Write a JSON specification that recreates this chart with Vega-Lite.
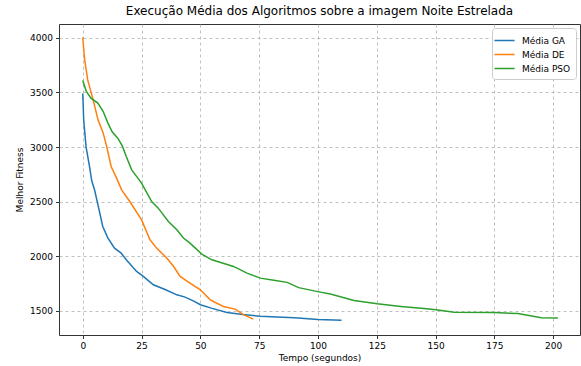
{
  "$schema": "https://vega.github.io/schema/vega-lite/v6.json",
  "autosize": {"type": "none"},
  "padding": {"left": 59, "top": 24, "right": 1, "bottom": 31},
  "width": 521,
  "height": 311,
  "background": "white",
  "config": {
    "font": "DejaVu Sans",
    "view": {"stroke": "#333333", "strokeWidth": 1}
  },
  "title": {
    "text": "Execução Média dos Algoritmos sobre a imagem Noite Estrelada",
    "fontSize": 12,
    "fontWeight": "normal",
    "color": "#000000",
    "anchor": "middle",
    "offset": 6,
    "font": "DejaVu Sans"
  },
  "data": {
    "values": [
      {"alg": "Média GA", "t": 0, "v": 3490},
      {"alg": "Média GA", "t": 0.4, "v": 3248},
      {"alg": "Média GA", "t": 1.4, "v": 3002},
      {"alg": "Média GA", "t": 2.9, "v": 2819},
      {"alg": "Média GA", "t": 3.8, "v": 2693},
      {"alg": "Média GA", "t": 5.0, "v": 2608},
      {"alg": "Média GA", "t": 6.3, "v": 2486},
      {"alg": "Média GA", "t": 8.5, "v": 2272},
      {"alg": "Média GA", "t": 10.7, "v": 2166},
      {"alg": "Média GA", "t": 13.5, "v": 2074},
      {"alg": "Média GA", "t": 16.3, "v": 2028},
      {"alg": "Média GA", "t": 18.5, "v": 1967},
      {"alg": "Média GA", "t": 22.9, "v": 1860},
      {"alg": "Média GA", "t": 26, "v": 1810},
      {"alg": "Média GA", "t": 30, "v": 1738},
      {"alg": "Média GA", "t": 35, "v": 1695},
      {"alg": "Média GA", "t": 40, "v": 1646},
      {"alg": "Média GA", "t": 43.5, "v": 1625},
      {"alg": "Média GA", "t": 47, "v": 1590},
      {"alg": "Média GA", "t": 50, "v": 1555},
      {"alg": "Média GA", "t": 55, "v": 1522},
      {"alg": "Média GA", "t": 61.3, "v": 1485},
      {"alg": "Média GA", "t": 68, "v": 1465},
      {"alg": "Média GA", "t": 75.5, "v": 1450},
      {"alg": "Média GA", "t": 90, "v": 1435},
      {"alg": "Média GA", "t": 100, "v": 1421},
      {"alg": "Média GA", "t": 110, "v": 1412},
      {"alg": "Média DE", "t": 0, "v": 4005},
      {"alg": "Média DE", "t": 0.8, "v": 3800},
      {"alg": "Média DE", "t": 2.1, "v": 3615},
      {"alg": "Média DE", "t": 4.4, "v": 3432},
      {"alg": "Média DE", "t": 6.5, "v": 3249},
      {"alg": "Média DE", "t": 8.7, "v": 3127},
      {"alg": "Média DE", "t": 10.2, "v": 3002},
      {"alg": "Média DE", "t": 12.1, "v": 2819},
      {"alg": "Média DE", "t": 14.4, "v": 2715},
      {"alg": "Média DE", "t": 16.5, "v": 2608},
      {"alg": "Média DE", "t": 20, "v": 2501},
      {"alg": "Média DE", "t": 25, "v": 2333},
      {"alg": "Média DE", "t": 28.6, "v": 2150},
      {"alg": "Média DE", "t": 31.4, "v": 2074},
      {"alg": "Média DE", "t": 35.7, "v": 1983},
      {"alg": "Média DE", "t": 38.5, "v": 1910},
      {"alg": "Média DE", "t": 41.4, "v": 1814},
      {"alg": "Média DE", "t": 45.6, "v": 1753},
      {"alg": "Média DE", "t": 50, "v": 1692},
      {"alg": "Média DE", "t": 54.2, "v": 1600},
      {"alg": "Média DE", "t": 59.8, "v": 1539},
      {"alg": "Média DE", "t": 64.8, "v": 1515},
      {"alg": "Média DE", "t": 68.5, "v": 1462},
      {"alg": "Média DE", "t": 72.5, "v": 1424},
      {"alg": "Média PSO", "t": 0, "v": 3609},
      {"alg": "Média PSO", "t": 1.5, "v": 3510},
      {"alg": "Média PSO", "t": 3.5, "v": 3448},
      {"alg": "Média PSO", "t": 6.4, "v": 3402},
      {"alg": "Média PSO", "t": 8.7, "v": 3325},
      {"alg": "Média PSO", "t": 10.7, "v": 3219},
      {"alg": "Média PSO", "t": 12.5, "v": 3140},
      {"alg": "Média PSO", "t": 14.9, "v": 3081},
      {"alg": "Média PSO", "t": 16.8, "v": 3010},
      {"alg": "Média PSO", "t": 18.5, "v": 2913},
      {"alg": "Média PSO", "t": 20.8, "v": 2791},
      {"alg": "Média PSO", "t": 25, "v": 2669},
      {"alg": "Média PSO", "t": 29.3, "v": 2501},
      {"alg": "Média PSO", "t": 32.1, "v": 2440},
      {"alg": "Média PSO", "t": 36.4, "v": 2318},
      {"alg": "Média PSO", "t": 40, "v": 2242},
      {"alg": "Média PSO", "t": 42.8, "v": 2166},
      {"alg": "Média PSO", "t": 45.6, "v": 2120},
      {"alg": "Média PSO", "t": 50.6, "v": 2019},
      {"alg": "Média PSO", "t": 54.9, "v": 1967},
      {"alg": "Média PSO", "t": 64.1, "v": 1906},
      {"alg": "Média PSO", "t": 69.8, "v": 1845},
      {"alg": "Média PSO", "t": 75.5, "v": 1799},
      {"alg": "Média PSO", "t": 81.9, "v": 1777},
      {"alg": "Média PSO", "t": 86.9, "v": 1760},
      {"alg": "Média PSO", "t": 91.8, "v": 1712},
      {"alg": "Média PSO", "t": 100.4, "v": 1673},
      {"alg": "Média PSO", "t": 105.3, "v": 1653},
      {"alg": "Média PSO", "t": 115.3, "v": 1595},
      {"alg": "Média PSO", "t": 125.2, "v": 1564},
      {"alg": "Média PSO", "t": 135.2, "v": 1540},
      {"alg": "Média PSO", "t": 145.1, "v": 1521},
      {"alg": "Média PSO", "t": 150.1, "v": 1509},
      {"alg": "Média PSO", "t": 157.9, "v": 1487},
      {"alg": "Média PSO", "t": 175, "v": 1484},
      {"alg": "Média PSO", "t": 185, "v": 1474},
      {"alg": "Média PSO", "t": 194.9, "v": 1436},
      {"alg": "Média PSO", "t": 202, "v": 1433}
    ]
  },
  "mark": {"type": "line", "strokeWidth": 1.5, "clip": true},
  "encoding": {
    "x": {
      "field": "t",
      "type": "quantitative",
      "scale": {"domain": [-10.1, 211.4], "nice": false, "zero": false},
      "axis": {
        "title": "Tempo (segundos)",
        "values": [0, 25, 50, 75, 100, 125, 150, 175, 200],
        "domain": false,
        "grid": true,
        "gridDash": [3, 3],
        "gridColor": "#b0b0b0",
        "gridWidth": 0.8,
        "tickColor": "#333333",
        "tickSize": 3.5,
        "labelFontSize": 9,
        "labelColor": "#000000",
        "labelPadding": 3,
        "titleFontSize": 9,
        "titleFontWeight": "normal",
        "titleColor": "#000000",
        "titlePadding": 3
      }
    },
    "y": {
      "field": "v",
      "type": "quantitative",
      "scale": {"domain": [1278, 4127], "nice": false, "zero": false},
      "axis": {
        "title": "Melhor Fitness",
        "values": [1500, 2000, 2500, 3000, 3500, 4000],
        "format": "d",
        "domain": false,
        "grid": true,
        "gridDash": [3, 3],
        "gridColor": "#b0b0b0",
        "gridWidth": 0.8,
        "tickColor": "#333333",
        "tickSize": 3.5,
        "labelFontSize": 9,
        "labelColor": "#000000",
        "labelPadding": 3,
        "titleFontSize": 9,
        "titleFontWeight": "normal",
        "titleColor": "#000000",
        "titlePadding": 5
      }
    },
    "color": {
      "field": "alg",
      "type": "nominal",
      "scale": {
        "domain": ["Média GA", "Média DE", "Média PSO"],
        "range": ["#1f77b4", "#ff7f0e", "#2ca02c"]
      },
      "legend": {
        "title": null,
        "orient": "top-right",
        "offset": 4,
        "symbolType": "M-1.5,0H1.5",
        "symbolSize": 180,
        "symbolStrokeWidth": 1.5,
        "symbolFillColor": "transparent",
        "labelFontSize": 9,
        "labelColor": "#000000",
        "labelOffset": 10,
        "rowPadding": 1,
        "padding": 5,
        "fillColor": "white",
        "strokeColor": "#cccccc",
        "cornerRadius": 3
      }
    }
  }
}
